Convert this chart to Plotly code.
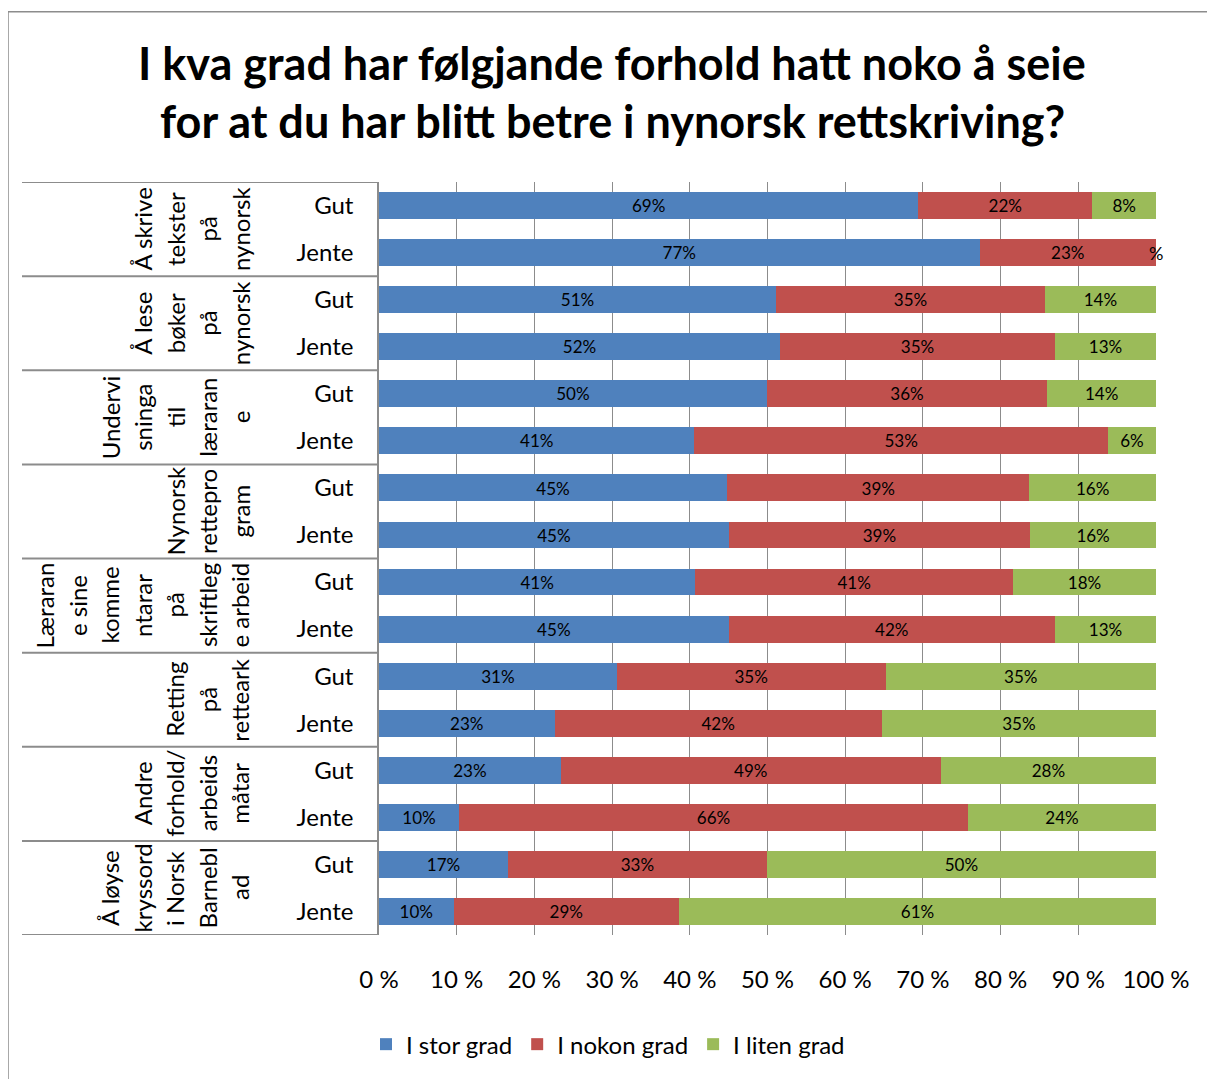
import plotly.graph_objects as go

# ---- data ----
groups = [
    ["Å skrive", "tekster", "på", "nynorsk"],
    ["Å lese", "bøker", "på", "nynorsk"],
    ["Undervi", "sninga", "til", "læraran", "e"],
    ["Nynorsk", "rettepro", "gram"],
    ["Læraran", "e sine", "komme", "ntarar", "på", "skriftleg", "e arbeid"],
    ["Retting", "på", "retteark"],
    ["Andre", "forhold/", "arbeids", "måtar"],
    ["Å løyse", "kryssord", "i Norsk", "Barnebl", "ad"],
]
genders = ["Gut", "Jente"]
series_names = ["I stor grad", "I nokon grad", "I liten grad"]
colors = ["#4F81BD", "#C0504D", "#9BBB59"]

# rows: group1 Gut, group1 Jente, group2 Gut, ...
stor = [69.4, 77.3, 51.1, 51.6, 49.9, 40.6, 44.8, 45.0, 40.7, 45.0, 30.6, 22.6, 23.4, 10.3, 16.6, 9.6]
nokon = [22.4, 22.7, 34.6, 35.4, 36.1, 53.2, 38.9, 38.8, 40.9, 42.0, 34.6, 42.1, 48.9, 65.5, 33.3, 29.0]
liten = [8.2, 0.0, 14.3, 13.0, 14.0, 6.2, 16.3, 16.2, 18.4, 13.0, 34.8, 35.3, 27.7, 24.2, 50.1, 61.4]
x_ticks = [0, 10, 20, 30, 40, 50, 60, 70, 80, 90, 100]
x_ticklabels = [f"{v} %" for v in x_ticks]

title_lines = ["I kva grad har følgjande forhold hatt noko å seie",
               "for at du har blitt betre i nynorsk rettskriving?"]

FONT = "Lato"
OFF = 8  # page body offset
W, H = 1215 - OFF, 1079 - OFF
L, R, T, B = 379 - OFF, 1156 - OFF, 182 - OFF, 938 - OFF  # plot area in figure pixels
PW, PH = R - L, B - T

def px_x(px):
    return (px - OFF - L) / PW

def px_y(py):
    return (B - (py - OFF)) / PH

n_rows = len(stor)
rows = list(range(n_rows))
row_labels = [genders[i % 2] for i in rows]

fig = go.Figure()
for name, vals, col in zip(series_names, [stor, nokon, liten], colors):
    fig.add_trace(go.Bar(
        name=name, x=vals, y=rows, orientation="h",
        marker=dict(color=col, line=dict(width=0)),
        width=0.57,
        texttemplate="%{x:.0f}%", textposition="inside",
        insidetextanchor="middle", textangle=0,
        textfont=dict(family=FONT, size=18, color="black"),
        hoverinfo="x+name",
    ))

shapes = []
# outer border
shapes.append(dict(type="rect", xref="paper", yref="paper",
                   x0=px_x(8), x1=px_x(1225), y0=px_y(11), y1=px_y(1090),
                   line=dict(color="#8C8C8C", width=1.5), fillcolor="rgba(0,0,0,0)"))
# group separators in label area
for g in range(len(groups) + 1):
    shapes.append(dict(type="line", xref="paper", yref="y",
                       x0=px_x(22), x1=0, y0=2 * g - 0.5, y1=2 * g - 0.5,
                       line=dict(color="#8C8C8C", width=2)))

annotations = []
for i, line in enumerate(title_lines):
    annotations.append(dict(text=f"<b>{line}</b>", xref="paper", yref="paper",
                            x=px_x(612), y=px_y(63 + 58 * i), showarrow=False,
                            xanchor="center", yanchor="middle",
                            font=dict(family=FONT, size=45, color="black")))
# group labels (vertical, wrapped into columns)
col_gap = 32.5
for g, lines in enumerate(groups):
    n = len(lines)
    for j, txt in enumerate(lines):
        cx = 240 - (n - 1 - j) * col_gap
        annotations.append(dict(text=txt, xref="paper", yref="y",
                                x=px_x(cx), y=2 * g + 0.5, textangle=-90,
                                showarrow=False, xanchor="center", yanchor="middle",
                                font=dict(family=FONT, size=24, color="black")))
# label of the zero-width segment
annotations.append(dict(text="%", xref="x", yref="y", x=100, y=1, showarrow=False,
                        xanchor="center", yanchor="middle",
                        font=dict(family=FONT, size=18, color="black")))

fig.update_layout(
    width=W, height=H,
    margin=dict(l=L, r=W - R, t=T, b=H - B, pad=0),
    barmode="stack",
    plot_bgcolor="white", paper_bgcolor="white",
    font=dict(family=FONT, size=24, color="black"),
    showlegend=True,
    legend=dict(orientation="h", x=px_x(608), y=px_y(1048),
                xanchor="center", yanchor="middle",
                font=dict(family=FONT, size=24, color="black"),
                itemwidth=30, traceorder="normal"),
    xaxis=dict(range=[0, 100], tickvals=x_ticks, ticktext=x_ticklabels,
               showgrid=True, gridcolor="#8C8C8C", gridwidth=1,
               zeroline=False, showline=False, ticks="",
               ticklabelstandoff=28, fixedrange=True),
    yaxis=dict(range=[n_rows - 0.5, -0.5], tickvals=rows, ticktext=row_labels,
               showgrid=False, zeroline=False, showline=True,
               linecolor="#8C8C8C", linewidth=1.5, ticks="",
               ticklabelstandoff=19, fixedrange=True),
    shapes=shapes,
    annotations=annotations,
)

fig.write_html("out.html")
